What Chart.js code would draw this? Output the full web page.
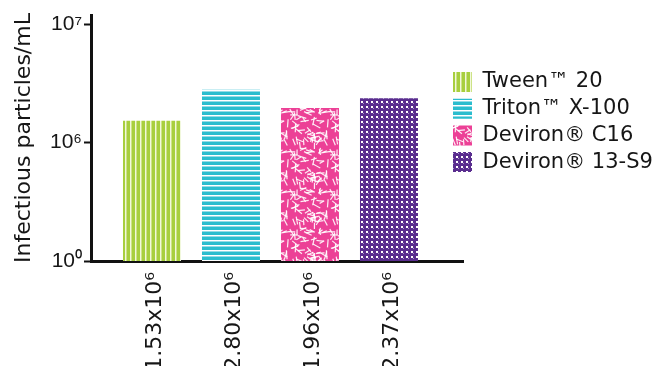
<!DOCTYPE html>
<html>
<head>
<meta charset="utf-8">
<script src="https://cdn.jsdelivr.net/npm/chart.js@4.4.1/dist/chart.umd.min.js"></script>
<style>
  html, body { margin: 0; padding: 0; background: #fff; }
  #wrap { width: 655px; height: 366px; }
</style>
</head>
<body>
<div id="wrap"><canvas id="chart" width="655" height="366"></canvas></div>
<script>
// Surfactant series and their measured titres
const seriesNames = ['Tween™ 20', 'Triton™ X-100', 'Deviron® C16', 'Deviron® 13-S9'];
const particleCounts = [1.53e6, 2.80e6, 1.96e6, 2.37e6];
const valueLabels = ['1.53x10⁶', '2.80x10⁶', '1.96x10⁶', '2.37x10⁶'];

// Y axis ticks (broken log axis: 10^0 .. 10^6 squeezed into one decade)
const yTickValues = [1, 1e6, 1e7];
const yTickLabels = ['10⁰', '10⁶', '10⁷'];
const yTop = 1.2e7;

const TEXT = '#161616';
const FONT = 'DejaVu Sans';

// --- fill patterns ---------------------------------------------------------
function makePattern(w, h, paint) {
  const c = document.createElement('canvas');
  c.width = w; c.height = h;
  const g = c.getContext('2d');
  paint(g, w, h);
  return g.createPattern(c, 'repeat');
}

const greenStripes = makePattern(5, 5, (g, w, h) => {
  g.fillStyle = '#a8cf3e'; g.fillRect(0, 0, w, h);
  g.fillStyle = '#f1f8dc'; g.fillRect(0, 0, 1, h);
  g.fillStyle = '#cde387'; g.fillRect(1, 0, 1, h);
});

const cyanStripes = makePattern(5, 5, (g, w, h) => {
  g.fillStyle = '#2bbdce'; g.fillRect(0, 0, w, h);
  g.fillStyle = '#ffffff'; g.fillRect(0, 0, w, 1);
  g.fillStyle = '#93dce6'; g.fillRect(0, 1, w, 1);
});

// white confetti dashes on pink, tile wraps seamlessly
const pinkDashes = makePattern(40, 40, (g, w, h) => {
  g.fillStyle = '#ec4096'; g.fillRect(0, 0, w, h);
  g.strokeStyle = 'rgba(255,255,255,0.9)';
  g.lineWidth = 1.2;
  g.lineCap = 'butt';
  let seed = 11;
  const rnd = () => { seed = (seed * 16807) % 2147483647; return seed / 2147483647; };
  for (let k = 0; k < 62; k++) {
    const cx = rnd() * w, cy = rnd() * h;
    const a = rnd() * Math.PI;
    const len = 5 + rnd() * 4;
    const dx = Math.cos(a) * len / 2, dy = Math.sin(a) * len / 2;
    for (const ox of [-w, 0, w]) {
      for (const oy of [-h, 0, h]) {
        g.beginPath();
        g.moveTo(cx - dx + ox, cy - dy + oy);
        g.lineTo(cx + dx + ox, cy + dy + oy);
        g.stroke();
      }
    }
  }
});

const purpleDots = makePattern(5, 5, (g, w, h) => {
  g.fillStyle = '#5a2d8f'; g.fillRect(0, 0, w, h);
  g.fillStyle = '#ffffff'; g.fillRect(1, 1, 2, 2);
  g.fillStyle = '#a590c8'; g.fillRect(3, 3, 1, 1);
});

const seriesFills = [greenStripes, cyanStripes, pinkDashes, purpleDots];

// --- broken log scale --------------------------------------------------------
// 10^0 -> 0, 10^6 -> 1, 10^7 -> 2 (one unit per decade above 10^6)
function brokenUnits(v) {
  if (v <= 1) return 0;
  if (v <= 1e6) return Math.log10(v) / 6;
  return 1 + Math.log10(v / 1e6);
}

class BrokenLogScale extends Chart.LinearScale {
  static id = 'brokenLog';
  determineDataLimits() {
    this.min = 1;
    this.max = this.options.max;
  }
  buildTicks() {
    return yTickValues.map(value => ({ value }));
  }
  getPixelForValue(value) {
    return this.getPixelForDecimal(brokenUnits(value) / brokenUnits(this.max));
  }
  getValueForPixel(pixel) {
    const u = this.getDecimalForPixel(pixel) * brokenUnits(this.max);
    return u <= 1 ? Math.pow(10, u * 6) : 1e6 * Math.pow(10, u - 1);
  }
}
Chart.register(BrokenLogScale);

// legend sits slightly over the end of the x axis line
const legendPlacement = {
  id: 'legendPlacement',
  afterLayout(chart) {
    const lg = chart.legend;
    const pad = lg.options.labels.padding;
    lg.left = chart.chartArea.right - 10 - pad;
    lg.top = 72 - 0.5 - pad;
  }
};

const datasets = seriesNames.map((name, i) => ({
  label: name,
  data: [{ x: i, y: particleCounts[i] }],
  backgroundColor: seriesFills[i],
  borderWidth: 0,
  grouped: false,
  categoryPercentage: 1,
  barPercentage: 0.734
}));

new Chart(document.getElementById('chart'), {
  type: 'bar',
  data: { datasets },
  plugins: [legendPlacement],
  options: {
    responsive: false,
    animation: false,
    layout: { padding: { top: 15, left: 0, right: 0, bottom: 0 } },
    plugins: {
      tooltip: { enabled: false },
      legend: {
        position: 'right',
        align: 'start',
        maxWidth: 192,
        labels: {
          boxWidth: 19,
          boxHeight: 20,
          padding: 5.7,
          color: TEXT,
          font: { family: FONT, size: 21 }
        }
      }
    },
    scales: {
      x: {
        type: 'linear',
        position: 'bottom',
        offset: false,
        min: -0.772,
        max: 3.937,
        z: 1,
        grid: { display: false, offset: false },
        border: { display: true, color: '#111', width: 3 },
        afterBuildTicks: scale => {
          scale.ticks = valueLabels.map((_, i) => ({ value: i }));
        },
        afterFit: scale => { scale.height = 105; },
        ticks: {
          autoSkip: false,
          minRotation: 90,
          maxRotation: 90,
          padding: 3,
          labelOffset: 3,
          color: TEXT,
          font: { family: FONT, size: 22 },
          callback: (value) => valueLabels[value]
        }
      },
      y: {
        type: 'brokenLog',
        max: yTop,
        z: 1,
        grid: {
          display: true,
          drawOnChartArea: false,
          drawTicks: true,
          tickLength: 7,
          tickWidth: 2,
          tickColor: '#111'
        },
        border: { display: true, color: '#111', width: 3 },
        afterFit: scale => { scale.width = 91; },
        ticks: {
          padding: 2,
          color: TEXT,
          font: { family: 'Liberation Sans', size: 21 },
          callback: (value, i) => yTickLabels[i]
        },
        title: {
          display: true,
          text: 'Infectious particles/mL',
          color: TEXT,
          font: { family: FONT, size: 22 },
          padding: { top: 11, bottom: 0 }
        }
      }
    }
  }
});
</script>
</body>
</html>
